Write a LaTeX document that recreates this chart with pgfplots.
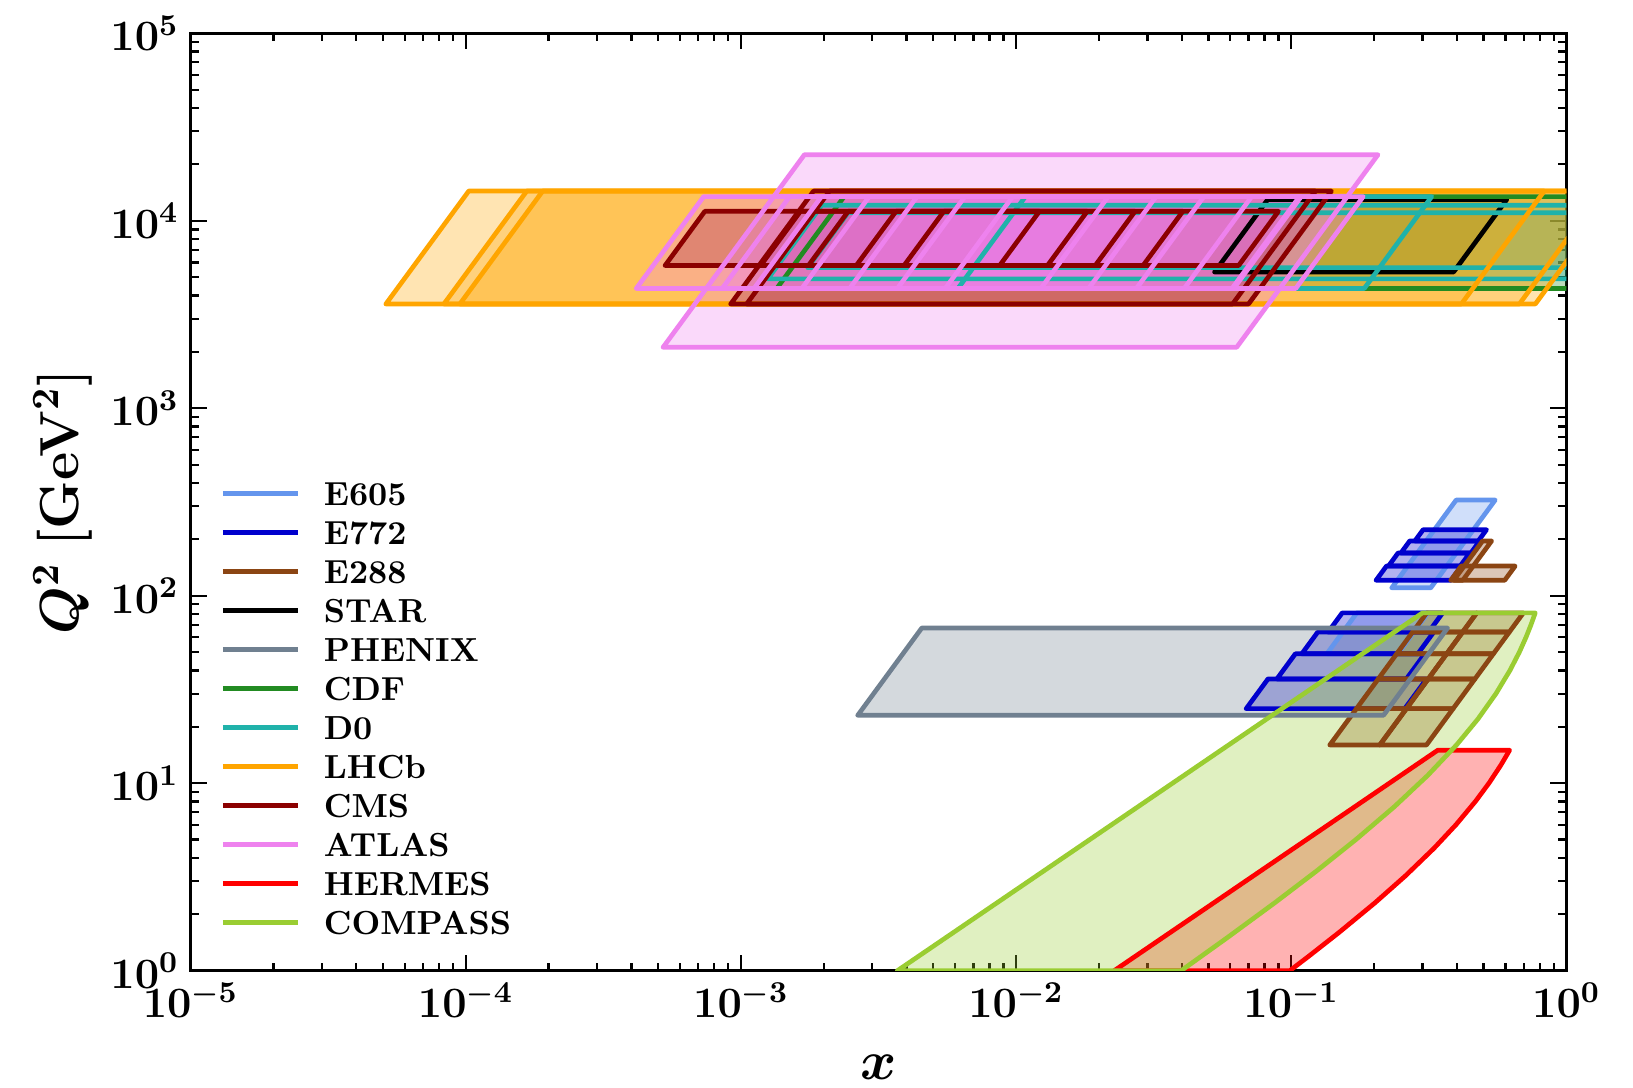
\RequirePackage{fix-cm}
\documentclass[border=0pt]{standalone}
\usepackage{pgfplots}
\pgfplotsset{compat=1.18}
\definecolor{e605}{RGB}{100,149,237}
\definecolor{e772}{RGB}{0,0,205}
\definecolor{e288}{RGB}{139,69,19}
\definecolor{star}{RGB}{0,0,0}
\definecolor{phenix}{RGB}{112,128,144}
\definecolor{cdf}{RGB}{34,139,34}
\definecolor{dzero}{RGB}{32,178,170}
\definecolor{lhcb}{RGB}{255,165,0}
\definecolor{cms}{RGB}{139,0,0}
\definecolor{atlas}{RGB}{238,130,238}
\definecolor{hermes}{RGB}{255,0,0}
\definecolor{compass}{RGB}{154,205,50}
% parallelogram: colour, bottom-left x, bottom-right x, top-right x, top-left x, Q2 bottom, Q2 top
\newcommand{\paraF}[7]{\addplot[forget plot, draw=none, fill=#1, fill opacity=0.3] coordinates {(#2,#6) (#3,#6) (#4,#7) (#5,#7) (#2,#6)};}
\newcommand{\paraD}[7]{\addplot[forget plot, draw=#1, fill=none, line width=1.4pt, line join=round, line cap=round] coordinates {(#2,#6) (#3,#6) (#4,#7) (#5,#7) (#2,#6)};}
\newcommand{\regionF}[2]{\addplot[forget plot, draw=none, fill=#1, fill opacity=0.3] coordinates {#2};}
\newcommand{\regionD}[2]{\addplot[forget plot, draw=#1, fill=none, line width=1.4pt, line join=round, line cap=round] coordinates {#2};}
\newcommand{\allshapes}{%
% E605
\para{e605}{0.13472}{0.24397}{0.31368}{0.17321}{49}{81}
\para{e605}{0.23203}{0.32156}{0.55125}{0.39777}{110.25}{324}
% E772
\para{e772}{0.068626}{0.25866}{0.31039}{0.082351}{25}{36}
\para{e772}{0.08872}{0.26215}{0.30584}{0.10351}{36}{49}
\para{e772}{0.10926}{0.28842}{0.32962}{0.12487}{49}{64}
\para{e772}{0.13619}{0.31569}{0.35515}{0.15321}{64}{81}
\para{e772}{0.20347}{0.38111}{0.41576}{0.22197}{121}{144}
\para{e772}{0.22566}{0.41127}{0.44554}{0.24447}{144}{169}
\para{e772}{0.25035}{0.44964}{0.48423}{0.26961}{169}{196}
\para{e772}{0.28149}{0.47843}{0.51260}{0.30160}{196}{225}
% E288
\para{e288}{0.13814}{0.20986}{0.26233}{0.17268}{16}{25}
\para{e288}{0.20986}{0.31019}{0.38774}{0.26233}{16}{25}
\para{e288}{0.17268}{0.26233}{0.31479}{0.20721}{25}{36}
\para{e288}{0.26233}{0.38774}{0.46529}{0.31479}{25}{36}
\para{e288}{0.20721}{0.31479}{0.36726}{0.24175}{36}{49}
\para{e288}{0.31479}{0.46529}{0.54283}{0.36726}{36}{49}
\para{e288}{0.24175}{0.36726}{0.41972}{0.27628}{49}{64}
\para{e288}{0.36726}{0.54283}{0.62038}{0.41972}{49}{64}
\para{e288}{0.27628}{0.41972}{0.47219}{0.31082}{64}{81}
\para{e288}{0.41972}{0.62038}{0.69793}{0.47219}{64}{81}
\para{e288}{0.38982}{0.42032}{0.53495}{0.49614}{121}{196}
\para{e288}{0.38015}{0.59715}{0.65144}{0.41471}{121}{144}
% STAR
\para{star}{0.052657}{0.389090}{0.607617}{0.082233}{5329}{12996}
% PHENIX
\para{phenix}{2.65927e-3}{0.21660}{0.370026}{4.54292e-3}{23.04}{67.24}
% CDF
\para{cdf}{1.35e-3}{1.2}{2.1091}{2.3727e-3}{4356}{13456}
% D0
\para{dzero}{6.1516e-3}{0.184328}{0.323970}{1.08119e-2}{4356}{13456}
\para{dzero}{1.25301e-3}{1.017955}{1.599644}{1.96901e-3}{4900}{12100}
\para{dzero}{1.75017e-3}{0.99197}{1.38876}{2.45024e-3}{5625}{11025}
% LHCb
\para{lhcb}{5.1272e-5}{0.41547}{0.83094}{1.02545e-4}{3600}{14400}
\para{lhcb}{8.3318e-5}{0.67513}{1.35026}{1.66636e-4}{3600}{14400}
\para{lhcb}{9.5220e-5}{0.77158}{1.54315}{1.90440e-4}{3600}{14400}
% CMS
\para{cms}{9.1842e-4}{0.061246}{0.12249}{1.83684e-3}{3600}{14400}
\para{cms}{1.04962e-3}{0.069996}{0.139993}{2.09925e-3}{3600}{14400}
\para{cms}{3.91882e-3}{8.7215e-3}{1.21642e-2}{5.46573e-3}{5776}{11236}
\para{cms}{2.62687e-3}{1.30110e-2}{1.81469e-2}{3.66378e-3}{5776}{11236}
\para{cms}{1.76084e-3}{1.94101e-2}{2.70720e-2}{2.45591e-3}{5776}{11236}
\para{cms}{1.18033e-3}{2.89564e-2}{4.03866e-2}{1.64625e-3}{5776}{11236}
\para{cms}{5.3036e-4}{6.44437e-2}{8.98820e-2}{7.3971e-4}{5776}{11236}
% ATLAS
\para{atlas}{5.2163e-4}{0.063383}{9.09412e-2}{7.48424e-4}{2116}{4356}
\para{atlas}{5.53014e-3}{1.23075e-2}{2.16314e-2}{9.71964e-3}{4356}{13456}
\para{atlas}{3.70696e-3}{1.83607e-2}{3.22703e-2}{6.51527e-3}{4356}{13456}
\para{atlas}{2.48485e-3}{2.73910e-2}{4.81417e-2}{4.36731e-3}{4356}{13456}
\para{atlas}{1.66565e-3}{4.08625e-2}{7.18189e-2}{2.92751e-3}{4356}{13456}
\para{atlas}{1.11651e-3}{6.09597e-2}{0.107141}{1.96236e-3}{4356}{13456}
\para{atlas}{7.48424e-4}{9.09412e-2}{0.159836}{1.31541e-3}{4356}{13456}
\para{atlas}{1.31541e-3}{0.159836}{0.206685}{1.70096e-3}{13456}{22500}
\para{atlas}{8.5534e-4}{0.103933}{0.182670}{1.50333e-3}{4356}{13456}
\para{atlas}{4.16739e-4}{6.18496e-2}{0.108706}{7.32451e-4}{4356}{13456}
% HERMES
\region{hermes}{(0.022727,1) (0.34091,15) (0.62189,15) (0.57817,12.5) (0.52301,10) (0.46729,8) (0.39683,6) (0.33040,4.5) (0.25974,3.2) (0.20140,2.3) (0.14925,1.6) (0.11628,1.2) (0.09881,1) (0.022727,1)}
% COMPASS
\region{compass}{(0.0037037,1) (0.3,81) (0.77055,81) (0.74373,70) (0.71327,60) (0.67458,50) (0.62383,40) (0.55432,30) (0.47702,22) (0.39880,16) (0.31321,11) (0.23719,7.5) (0.17170,5) (0.12355,3.4) (0.08706,2.3) (0.05855,1.5) (0.03981,1) (0.0037037,1)}
}
\begin{document}
\begin{tikzpicture}
\useasboundingbox (-57.18pt,-35.19pt) rectangle (432.72pt,291.21pt);
\begin{axis}[
  at={(0,0)}, anchor=south west,
  scale only axis, width=412.74pt, height=281.22pt,
  xmode=log, ymode=log, xmin=1e-5, xmax=1, ymin=1, ymax=1e5,
  axis line style={line width=0.9pt},
  tick style={line width=0.7pt, black},
  major tick length=4.8pt, minor tick length=2.4pt,
  tick align=inside, tick pos=both,
  tick label style={font=\fontsize{13}{15}\selectfont\boldmath},
  xlabel={$x$}, ylabel={$Q^2$ \textbf{[GeV$^2$]}},
  xlabel style={font=\fontsize{16.5}{20}\selectfont\boldmath, at={(axis description cs:0.5,-0.1028)}, anchor=center},
  ylabel style={font=\fontsize{16.5}{20}\selectfont\boldmath, at={(axis description cs:-0.093,0.5)}, anchor=center},
  legend style={at={(0.0215,0.5211)}, anchor=north west, draw=none, fill=none, inner sep=0pt, outer sep=0pt,
    font=\fontsize{10}{12}\selectfont\bfseries, row sep=4.8pt, column sep=7.0pt,
    nodes={inner sep=0pt, text height=6.9pt, text depth=0pt}},
  legend cell align=left,
  legend image code/.code={\draw[#1, line width=1.6pt] (0pt,0pt) -- (22.5pt,0pt);},
]
\let\para\paraF \let\region\regionF
\allshapes
\let\para\paraD \let\region\regionD
\allshapes
% legend
\addlegendimage{color=e605}\addlegendentry{E605}
\addlegendimage{color=e772}\addlegendentry{E772}
\addlegendimage{color=e288}\addlegendentry{E288}
\addlegendimage{color=star}\addlegendentry{STAR}
\addlegendimage{color=phenix}\addlegendentry{PHENIX}
\addlegendimage{color=cdf}\addlegendentry{CDF}
\addlegendimage{color=dzero}\addlegendentry{D0}
\addlegendimage{color=lhcb}\addlegendentry{LHCb}
\addlegendimage{color=cms}\addlegendentry{CMS}
\addlegendimage{color=atlas}\addlegendentry{ATLAS}
\addlegendimage{color=hermes}\addlegendentry{HERMES}
\addlegendimage{color=compass}\addlegendentry{COMPASS}
\end{axis}
\end{tikzpicture}
\end{document}
